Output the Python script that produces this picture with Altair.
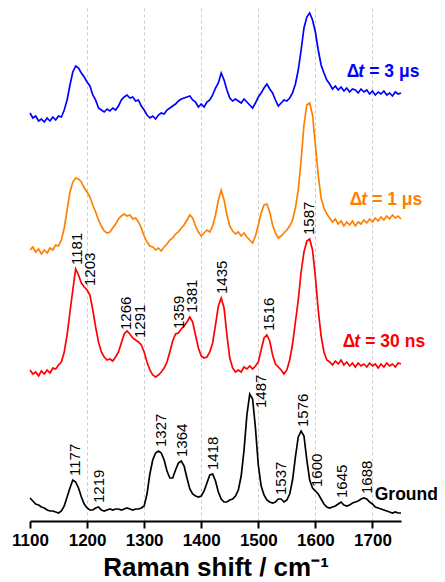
import altair as alt
import pandas as pd

FONT = "Liberation Sans"

wavenumbers = list(range(1100, 1755, 5))

series_keys = ["blue", "orange", "red", "ground"]
series_colors = ["#0000FF", "#FF8000", "#FF0000", "#000000"]
series_offsets = [400, 270, 148, 5]

blue = [8, 3, 5, 0, 2, -1, 3, 0, 4, 1,
        5, 4, 11, 21, 36, 49, 55, 53, 48, 44,
        39, 35, 26, 21, 13, 11, 9, 12, 10, 13,
        11, 15, 21, 24, 26, 23, 24, 20, 21, 15,
        11, 6, 3, 5, 2, 6, 8, 7, 11, 13,
        15, 17, 20, 22, 23, 24, 25, 21, 19, 14,
        17, 14, 19, 21, 26, 33, 38, 48, 41, 31,
        23, 20, 22, 20, 18, 22, 19, 16, 13, 18,
        24, 28, 33, 37, 32, 28, 21, 15, 18, 21,
        20, 23, 28, 37, 51, 71, 93, 104, 108, 101,
        89, 71, 56, 48, 41, 37, 32, 35, 31, 34,
        30, 33, 29, 32, 31, 28, 32, 29, 31, 27,
        30, 26, 29, 27, 30, 26, 28, 25, 29, 27, 28]

orange = [1, 4, -1, 2, -3, 1, -2, 3, 1, 6,
          5, 11, 23, 41, 59, 69, 73, 72, 69, 63,
          59, 54, 46, 39, 31, 25, 20, 18, 19, 23,
          27, 32, 35, 37, 35, 36, 32, 33, 29, 23,
          15, 9, 5, 4, 1, 3, 0, 4, 7, 11,
          13, 17, 19, 23, 26, 31, 36, 33, 25, 19,
          15, 18, 21, 19, 25, 36, 51, 61, 51, 36,
          25, 20, 17, 19, 15, 18, 14, 11, 8, 15,
          26, 38, 46, 47, 39, 26, 18, 13, 15, 18,
          21, 25, 31, 43, 61, 91, 126, 146, 148, 136,
          106, 76, 53, 43, 37, 33, 29, 32, 27, 30,
          25, 29, 26, 30, 25, 29, 27, 31, 28, 32,
          29, 33, 30, 34, 31, 35, 32, 36, 33, 35, 32]

red = [3, -1, 1, -3, 2, -1, 3, 0, 5, 4,
       8, 11, 21, 38, 61, 83, 104, 98, 90, 86,
       83, 78, 63, 46, 31, 21, 16, 13, 14, 12,
       16, 21, 30, 39, 42, 39, 35, 33, 31, 28,
       21, 11, 3, -2, -4, -2, 1, 5, 11, 21,
       32, 39, 40, 44, 47, 51, 56, 51, 38, 25,
       17, 15, 16, 21, 30, 48, 67, 75, 65, 38,
       15, 5, 1, 3, 1, 6, 4, 7, 4, 7,
       11, 23, 35, 38, 32, 18, 9, 6, 3, -1,
       3, 13, 29, 51, 73, 101, 121, 132, 134, 123,
       96, 63, 37, 21, 13, 11, 8, 12, 9, 13,
       8, 11, 7, 10, 6, 10, 7, 9, 6, 10,
       7, 9, 5, 9, 6, 10, 7, 9, 6, 10, 9]

ground = [18, 15, 12, 11, 9, 8, 6, 5, 5, 4,
          3, 5, 10, 19, 28, 36, 34, 28, 19, 12,
          8, 6, 6, 8, 9, 6, 5, 6, 7, 6,
          7, 7, 6, 7, 8, 7, 6, 7, 7, 8,
          10, 22, 42, 56, 63, 65, 63, 56, 45, 38,
          38, 46, 53, 55, 50, 38, 27, 22, 20, 19,
          20, 25, 33, 41, 42, 35, 24, 17, 14, 14,
          16, 17, 20, 26, 40, 66, 101, 122, 117, 88,
          51, 30, 21, 16, 14, 13, 14, 17, 17, 14,
          16, 22, 36, 59, 79, 85, 80, 56, 36, 28,
          25, 22, 17, 12, 9, 8, 9, 10, 12, 14,
          11, 10, 11, 13, 14, 15, 17, 18, 17, 14,
          12, 9, 8, 7, 6, 5, 4, 3, 4, 3, 3]

series_values = [blue, orange, red, ground]

# peak annotations
red_peaks = [1181, 1203, 1266, 1291, 1359, 1381, 1435, 1516, 1587]
ground_peaks = [1177, 1219, 1327, 1364, 1418, 1487, 1537, 1576, 1600, 1645, 1688]
ground_shift_x = [0, 0, 0, 0, 0, 15, 0, 0, 0, 0, 0]
ground_shift_y = [0, 0, 0, 0, 0, -18, 0, 0, 0, 0, 0]

# series labels
label_delta = ["Δ", "Δ", "Δ", "Ground"]
label_t = ["t", "t", "t", ""]
label_rest = ["= 3 μs", "= 1 μs", "= 30 ns", ""]
label_x = [1655, 1660, 1648, 1704]
label_rel_y = [44, 46, 26, 16]

rows = []
for key, off, vals in zip(series_keys, series_offsets, series_values):
    for w, v in zip(wavenumbers, vals):
        rows.append({"w": w, "y": v + off, "series": key})
df = pd.DataFrame(rows)


def peak_top(vals, off, peak):
    cands = [v for w, v in zip(wavenumbers, vals) if abs(w - peak) <= 3]
    return max(cands) + off


plabels = []
for p in red_peaks:
    plabels.append({"w": p + 2, "y": peak_top(red, series_offsets[2], p) + 4, "t": str(p)})
for p, sx, sy in zip(ground_peaks, ground_shift_x, ground_shift_y):
    plabels.append({"w": p + 2 + sx, "y": peak_top(ground, series_offsets[3], p) + 4 + sy, "t": str(p)})
pl_df = pd.DataFrame(plabels)

sl_df = pd.DataFrame({
    "series": series_keys,
    "w": label_x,
    "y": [o + r for o, r in zip(series_offsets, label_rel_y)],
    "d": label_delta,
    "t": label_t,
    "r": label_rest,
})

x_scale = alt.Scale(domain=[1100, 1750], nice=False, zero=False)
y_scale = alt.Scale(domain=[0, 513], nice=False, zero=False)
c_scale = alt.Scale(domain=series_keys, range=series_colors)

x_axis = alt.Axis(
    values=list(range(1100, 1751, 50)),
    format="d",
    labelExpr="datum.value % 100 === 0 ? datum.label : ''",
    tickSize={"condition": {"test": "datum.value % 100 === 0", "value": 7}, "value": 4},
    tickWidth=2,
    tickColor="black",
    domainWidth=2,
    domainColor="black",
    labelFont=FONT,
    labelFontSize=17,
    labelFontWeight="bold",
    labelColor="black",
    labelPadding=4,
    labelFlush=False,
    labelOverlap=False,
    grid=True,
    gridColor="#c8c8c8",
    gridDash=[3, 3],
    gridWidth=1,
    gridOpacity={"condition": {"test": "datum.value === 1100 || datum.value === 1750", "value": 0}, "value": 1},
    title="Raman shift / cm⁻¹",
    titleFont=FONT,
    titleFontSize=26,
    titleFontWeight="bold",
    titleColor="black",
    titleBaseline="alphabetic",
    titleY=54,
)

lines = alt.Chart(df).mark_line(strokeWidth=1.7).encode(
    x=alt.X("w:Q", scale=x_scale, axis=x_axis),
    y=alt.Y("y:Q", scale=y_scale, axis=None),
    color=alt.Color("series:N", scale=c_scale, legend=None),
)

peak_text = alt.Chart(pl_df).mark_text(
    angle=270, align="left", baseline="middle", font=FONT, fontSize=15, color="black"
).encode(
    x=alt.X("w:Q", scale=x_scale),
    y=alt.Y("y:Q", scale=y_scale),
    text="t:N",
)

common = dict(align="left", baseline="alphabetic", font=FONT, fontSize=17.5, fontWeight="bold")
enc = dict(
    x=alt.X("w:Q", scale=x_scale),
    y=alt.Y("y:Q", scale=y_scale),
    color=alt.Color("series:N", scale=c_scale, legend=None),
)
lab_d = alt.Chart(sl_df).mark_text(**common).encode(text="d:N", **enc)
lab_t = alt.Chart(sl_df).mark_text(fontStyle="italic", dx=11.5, **common).encode(text="t:N", **enc)
lab_r = alt.Chart(sl_df).mark_text(dx=22.5, **common).encode(text="r:N", **enc)

chart = alt.layer(lines, peak_text, lab_d, lab_t, lab_r).properties(
    width=371,
    height=513,
    autosize=alt.AutoSizeParams(type="none"),
    padding={"left": 22, "top": 0, "right": 36, "bottom": 61},
    background="white",
).configure_view(stroke=None)

chart.save("out.html", embed_options={"renderer": "svg", "actions": False})
